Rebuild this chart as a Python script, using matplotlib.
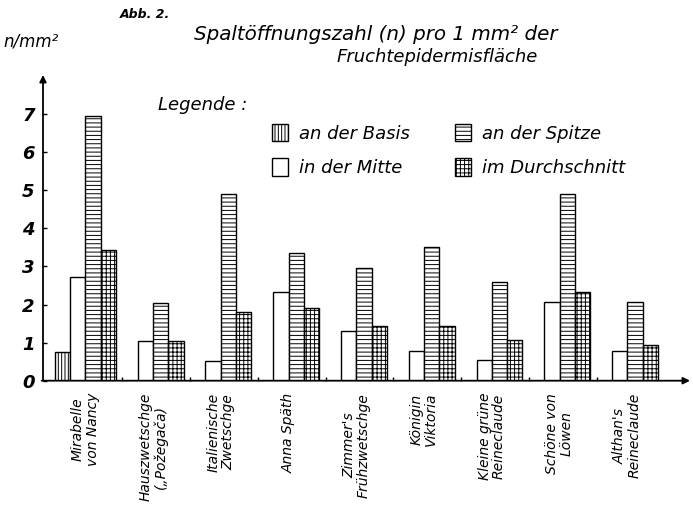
import numpy as np
import matplotlib.pyplot as plt
from matplotlib.patches import Patch

# Sorten (zweizeilige Beschriftung)
sorten = [
    "Mirabelle\nvon Nancy",
    "Hauszwetschge\n(„Požegača)",
    "Italienische\nZwetschge",
    "Anna Späth",
    "Zimmer's\nFrühzwetschge",
    "Königin\nViktoria",
    "Kleine grüne\nReineclaude",
    "Schöne von\nLöwen",
    "Althan's\nReineclaude",
]

# Spaltöffnungen pro mm² (nur bei Mirabelle gibt es einen Wert an der Basis)
basis = [0.76, np.nan, np.nan, np.nan, np.nan, np.nan, np.nan, np.nan, np.nan]
mitte = [2.73, 1.04, 0.53, 2.33, 1.30, 0.77, 0.55, 2.07, 0.77]
spitze = [6.94, 2.04, 4.90, 3.35, 2.97, 3.50, 2.58, 4.90, 2.07]
durchschnitt = [3.44, 1.04, 1.80, 1.90, 1.43, 1.43, 1.06, 2.33, 0.93]

serien = [
    ("an der Basis", basis, "|||||"),
    ("in der Mitte", mitte, ""),
    ("an der Spitze", spitze, "----"),
    ("im Durchschnitt", durchschnitt, "++++"),
]

plt.rcParams["hatch.linewidth"] = 0.7
plt.rcParams["font.family"] = "DejaVu Sans"

fig = plt.figure(figsize=(6.93, 5.07), dpi=100)
ax = fig.add_axes([43 / 693, 126.3 / 507, 647 / 693, 305.7 / 507])

w = 0.226
x = np.arange(len(sorten))
offsets = [-1.5 * w, -0.5 * w, 0.5 * w, 1.5 * w]

handles = []
for (name, vals, hatch), off in zip(serien, offsets):
    vals = np.array(vals)
    ok = ~np.isnan(vals)
    ax.bar(x[ok] + off, vals[ok], width=w, color="white", edgecolor="black",
           linewidth=1.0, hatch=hatch)
    handles.append(Patch(facecolor="white", edgecolor="black", linewidth=1.0,
                         hatch=hatch, label=name))

ax.set_xlim(-0.624, 8.925)
ax.set_ylim(0, 8.03)

# Achsen mit Pfeilen statt Rahmen
for s in ax.spines.values():
    s.set_visible(False)
ax.annotate("", xy=(0, 1), xytext=(0, 0), xycoords="axes fraction",
            arrowprops=dict(arrowstyle="-|>", lw=1.3, color="black",
                            mutation_scale=10, shrinkA=0, shrinkB=0))
ax.annotate("", xy=(1, 0), xytext=(-0.002, 0), xycoords="axes fraction",
            arrowprops=dict(arrowstyle="-|>", lw=1.3, color="black",
                            mutation_scale=10, shrinkA=0, shrinkB=0))

ax.set_yticks(range(8))
ax.set_yticklabels([str(i) for i in range(8)], fontsize=13,
                   fontstyle="italic", fontweight="bold")
ax.tick_params(axis="y", direction="in", length=3, width=1, pad=6)
ax.set_xticks(x[1:] - 2 * w)
ax.set_xticklabels([])
ax.tick_params(axis="x", direction="in", length=3, width=1)

for xi, name in zip(x, sorten):
    ax.text(xi, -0.32, name, rotation=90, ha="center", va="top",
            multialignment="center", fontsize=10, fontstyle="italic",
            linespacing=1.05, clip_on=False)

leg = ax.legend(handles=handles, ncol=2, loc="upper left",
                bbox_to_anchor=(220 / 647, 1.0 - 40 / 305.7),
                frameon=False, prop=dict(size=13, style="italic"),
                handlelength=0.9, handleheight=1.1, handletextpad=0.6,
                columnspacing=2.5, labelspacing=0.85, borderpad=0)

fig.text(158 / 693, 1 - 105 / 507, "Legende :", fontsize=13,
         fontstyle="italic", va="center", ha="left")

# Titel und Beschriftungen
fig.text(120 / 693, 1 - 14 / 507, "Abb. 2.", fontsize=9, fontstyle="italic",
         fontweight="bold", va="center", ha="left")
fig.text(3 / 693, 1 - 42 / 507, "n/mm²", fontsize=12, fontstyle="italic",
         va="center", ha="left")
fig.text(376 / 693, 1 - 35 / 507, "Spaltöffnungszahl (n) pro 1 mm² der",
         fontsize=14.3, fontstyle="italic", va="center", ha="center")
fig.text(437 / 693, 1 - 57 / 507, "Fruchtepidermisfläche",
         fontsize=13, fontstyle="italic", va="center", ha="center")

fig.savefig("out.png", dpi=100, facecolor="white")
